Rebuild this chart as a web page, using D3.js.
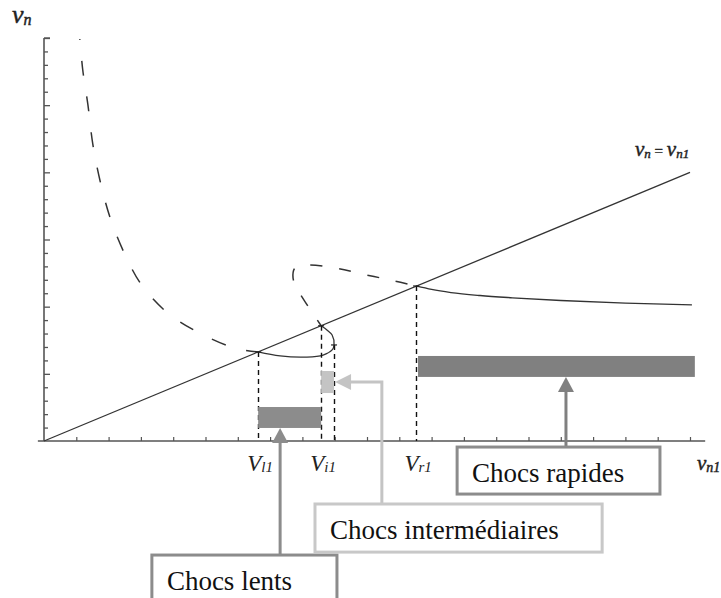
<!DOCTYPE html>
<html>
<head>
<meta charset="utf-8">
<script src="https://cdn.jsdelivr.net/npm/d3@7/dist/d3.min.js"></script>
<style>
  html, body { margin: 0; padding: 0; background: #fff; }
  svg { display: block; }
  text { font-family: "Liberation Serif", "DejaVu Serif", serif; }
</style>
</head>
<body>
<svg id="chart" width="721" height="598"></svg>
<script>
// ---------- data (in chart units: x = v_n1, y = v_n) ----------
const xTickValues = d3.range(1, 21);
const yTickValues = d3.range(1, 31);

// dashed branch, left (coming from the top)
const dashedLeft = [
  [1.11, 29.93], [1.20, 27.62], [1.36, 25.02], [1.51, 22.11], [1.73, 19.43],
  [2.04, 16.68], [2.47, 14.07], [3.02, 11.62], [3.83, 9.53], [4.81, 8.04],
  [5.90, 6.92], [6.63, 6.63]
];
// solid loop between V_l1 and V_i1
const solidLoop = [
  [6.63, 6.63], [7.31, 6.33], [8.14, 6.25], [8.64, 6.40], [8.92, 6.78],
  [8.98, 7.15], [8.92, 7.89], [8.76, 8.27], [8.58, 8.58]
];
// dashed upper loop between V_i1 and V_r1
const dashedUpper = [
  [8.58, 8.58], [8.17, 10.05], [7.86, 11.24], [7.71, 12.14], [7.77, 12.88],
  [8.08, 13.10], [9.01, 12.88], [9.85, 12.43], [10.71, 11.99], [11.52, 11.54]
];
// solid branch after V_r1
const solidRight = [
  [11.52, 11.54], [12.0, 11.28], [12.6, 11.05], [13.5, 10.83], [14.5, 10.66],
  [16.0, 10.46], [18.0, 10.26], [20.06, 10.13]
];
// line v_n = v_n1
const diagonal = [[0, 0], [20, 20]];

// special velocities
const marks = [
  { sub: "l1", v: 6.63, top: 6.63, label: true },
  { sub: "i1", v: 8.58, top: 8.58, label: true },
  { sub: "",   v: 8.98, top: 7.15, label: false },
  { sub: "r1", v: 11.52, top: 11.54, label: true }
];

// shock bands (x range, y range)
const bandNames = ["Chocs lents", "Chocs intermédiaires", "Chocs rapides"];
const bandX = [[6.63, 8.58], [8.58, 8.98], [11.58, 20.15]];
const bandY = [[0.97, 2.53], [3.57, 5.21], [4.77, 6.33]];
const bandColors = ["#8c8c8c", "#c4c4c4", "#808080"];
const boxColors = ["#8c8c8c", "#c8c8c8", "#8c8c8c"];
// label boxes (x range, y range) in chart units
const boxX = [[3.34, 9.07], [8.39, 17.28], [12.79, 19.07]];
const boxY = [[-8.49, -12.4], [-4.69, -8.27], [-0.45, -3.95]];
// arrow column x
const arrowX = [7.31, 10.46, 16.16];

// ---------- scales ----------
const svg = d3.select("#chart");
const x = d3.scaleLinear().domain([0, 20]).range([44, 690]);
const y = d3.scaleLinear().domain([0, 30]).range([441, 38]);

// ---------- axes ----------
const axisColor = "#555";
const gx = svg.append("g").attr("transform", `translate(0,${y(0)})`)
  .call(d3.axisBottom(x).tickValues(xTickValues).tickSize(-4).tickFormat(""));
gx.select(".domain").remove();
gx.selectAll(".tick line").attr("stroke", axisColor).attr("stroke-width", 1.2);

const gy = svg.append("g").attr("transform", `translate(${x(0)},0)`)
  .call(d3.axisLeft(y).tickValues(yTickValues).tickSize(-4).tickFormat(""));
gy.select(".domain").remove();
gy.selectAll(".tick line").attr("stroke", axisColor).attr("stroke-width", 1.3)
  .attr("x2", d => d % 5 === 0 ? 6 : 4);

svg.append("line").attr("x1", x(-0.19)).attr("x2", x(20.47))
  .attr("y1", y(0)).attr("y2", y(0)).attr("stroke", axisColor).attr("stroke-width", 1.6);
svg.append("line").attr("x1", x(0)).attr("x2", x(0))
  .attr("y1", y(0)).attr("y2", y(30)).attr("stroke", axisColor).attr("stroke-width", 1.6);
svg.append("line").attr("x1", x(0)).attr("x2", x(0) + 6)
  .attr("y1", y(30)).attr("y2", y(30)).attr("stroke", axisColor).attr("stroke-width", 1.4);

// ---------- curves ----------
const line = d3.line().x(d => x(d[0])).y(d => y(d[1])).curve(d3.curveCatmullRom.alpha(0.5));
const smooth = d3.line().x(d => x(d[0])).y(d => y(d[1])).curve(d3.curveMonotoneX);
const straight = d3.line().x(d => x(d[0])).y(d => y(d[1]));

svg.append("path").attr("d", straight(diagonal))
  .attr("fill", "none").attr("stroke", "#333").attr("stroke-width", 1.3);
svg.append("path").attr("d", line(dashedLeft))
  .attr("fill", "none").attr("stroke", "#333").attr("stroke-width", 1.5)
  .attr("stroke-dasharray", "15,21").attr("stroke-dashoffset", 14);
svg.append("path").attr("d", line(solidLoop))
  .attr("fill", "none").attr("stroke", "#333").attr("stroke-width", 1.3);
svg.append("path").attr("d", line(dashedUpper))
  .attr("fill", "none").attr("stroke", "#333").attr("stroke-width", 1.5)
  .attr("stroke-dasharray", "12,17").attr("stroke-dashoffset", 5);
svg.append("path").attr("d", smooth(solidRight))
  .attr("fill", "none").attr("stroke", "#333").attr("stroke-width", 1.3);

// ---------- dashed verticals ----------
svg.selectAll(".vmark").data(marks).join("line")
  .attr("x1", d => Math.round(x(d.v)) + 0.5).attr("x2", d => Math.round(x(d.v)) + 0.5)
  .attr("y1", d => y(d.top)).attr("y2", y(0))
  .attr("stroke", "#111").attr("stroke-width", 1.4).attr("stroke-dasharray", "5,4");
svg.selectAll(".vtick").data(marks).join("line")
  .attr("x1", d => x(d.v) - 3).attr("x2", d => x(d.v) + 3)
  .attr("y1", d => y(d.top)).attr("y2", d => y(d.top))
  .attr("stroke", "#222").attr("stroke-width", 1.2);

// labels V_xx
const vl = svg.selectAll(".vlabel").data(marks.filter(d => d.label)).join("text")
  .attr("x", d => x(d.v) + 2).attr("y", 471).attr("text-anchor", "middle")
  .attr("font-style", "italic").attr("fill", "#222");
vl.append("tspan").attr("font-size", 23).text("V");
vl.append("tspan").attr("font-size", 15).attr("dy", 1).text(d => d.sub);

// axis titles (slightly thickened italic)
function mathText(sel) {
  return sel.attr("font-style", "italic").attr("fill", "#222")
    .attr("stroke", "#222").attr("stroke-width", 0.45);
}
const tY = mathText(svg.append("text").attr("x", 12).attr("y", 23));
tY.append("tspan").attr("font-size", 26).text("v");
tY.append("tspan").attr("font-size", 16).attr("dy", 2).text("n");

const tX = mathText(svg.append("text").attr("x", 697).attr("y", 470));
tX.append("tspan").attr("font-size", 21).text("v");
tX.append("tspan").attr("font-size", 14).attr("dy", 2).text("n1");

const tL = mathText(svg.append("text").attr("x", 635).attr("y", 156));
tL.append("tspan").attr("font-size", 21).text("v");
tL.append("tspan").attr("font-size", 13).attr("dy", 2).text("n");
tL.append("tspan").attr("font-size", 15).attr("dy", -2).attr("font-style", "normal").text(" = ");
tL.append("tspan").attr("font-size", 21).text("v");
tL.append("tspan").attr("font-size", 13).attr("dy", 2).text("n1");

// ---------- bands ----------
svg.selectAll(".band").data(bandNames).join("rect")
  .attr("x", (d, i) => x(bandX[i][0]))
  .attr("width", (d, i) => x(bandX[i][1]) - x(bandX[i][0]))
  .attr("y", (d, i) => y(bandY[i][1]))
  .attr("height", (d, i) => y(bandY[i][0]) - y(bandY[i][1]))
  .attr("fill", (d, i) => bandColors[i]);

// ---------- arrows ----------
function arrowUp(xc, yTip, yBase, color) {
  const g = svg.append("g");
  g.append("line").attr("x1", xc).attr("x2", xc).attr("y1", yBase).attr("y2", yTip + 14)
    .attr("stroke", color).attr("stroke-width", 3);
  g.append("path").attr("d", `M${xc},${yTip}L${xc - 8},${yTip + 15}L${xc + 8},${yTip + 15}Z`)
    .attr("fill", color);
}
arrowUp(x(arrowX[0]), y(bandY[0][0]), y(boxY[0][0]), bandColors[0]);
arrowUp(x(arrowX[2]), y(bandY[2][0]), y(boxY[2][0]), bandColors[2]);
{
  const c = "#c4c4c4";
  const xc = x(arrowX[1]);
  const ym = y((bandY[1][0] + bandY[1][1]) / 2);
  const xt = x(bandX[1][1]) + 1;
  svg.append("path").attr("d", `M${xc},${y(boxY[1][0])}L${xc},${ym}L${xt + 14},${ym}`)
    .attr("fill", "none").attr("stroke", c).attr("stroke-width", 3);
  svg.append("path").attr("d", `M${xt},${ym}L${xt + 16},${ym - 8}L${xt + 16},${ym + 8}Z`)
    .attr("fill", c);
}

// ---------- label boxes ----------
const boxes = svg.selectAll(".box").data(bandNames).join("g");
boxes.append("rect")
  .attr("x", (d, i) => x(boxX[i][0]))
  .attr("width", (d, i) => x(boxX[i][1]) - x(boxX[i][0]))
  .attr("y", (d, i) => y(boxY[i][0]))
  .attr("height", (d, i) => y(boxY[i][1]) - y(boxY[i][0]))
  .attr("fill", "#fff").attr("stroke", (d, i) => boxColors[i]).attr("stroke-width", 3);
boxes.append("text")
  .attr("x", (d, i) => x(boxX[i][0]) + 15)
  .attr("y", (d, i) => y(boxY[i][0]) + 35)
  .attr("font-size", 27).attr("fill", "#111")
  .text(d => d);
</script>
</body>
</html>
